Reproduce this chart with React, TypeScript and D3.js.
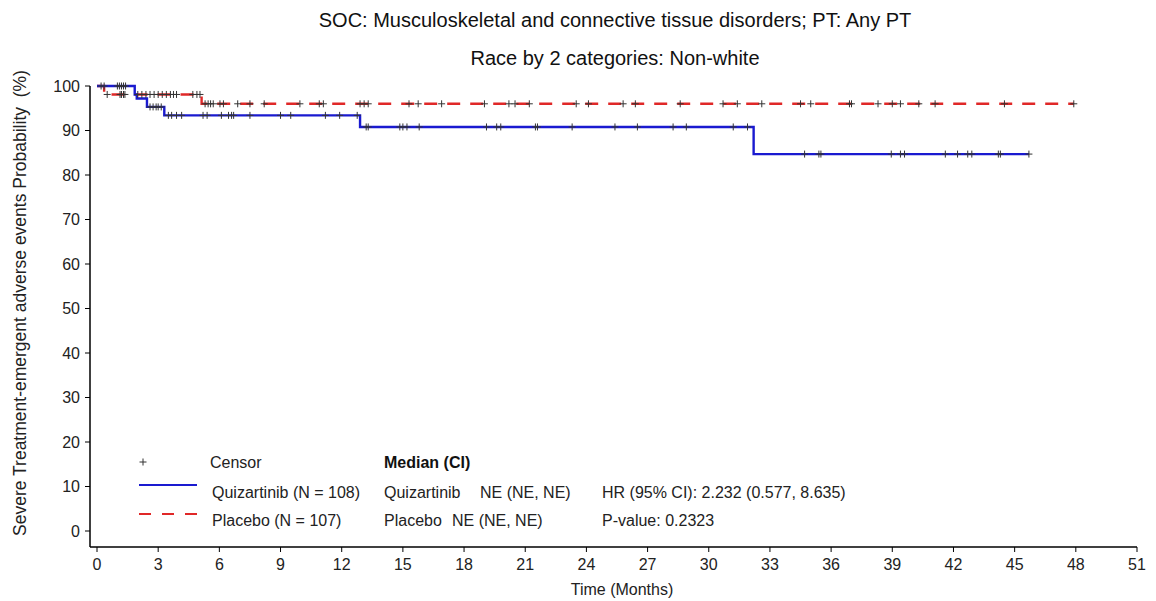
import React from "react";
import * as d3 from "d3";

const xTicks = [0, 3, 6, 9, 12, 15, 18, 21, 24, 27, 30, 33, 36, 39, 42, 45, 48, 51];
const yTicks = [0, 10, 20, 30, 40, 50, 60, 70, 80, 90, 100];

// Quizartinib KM steps
const quizStepTimes = [0, 1.85, 1.95, 2.45, 3.3, 12.9, 32.2];
const quizStepSurv = [100, 98.1, 97.2, 95.3, 93.4, 90.8, 84.7];
const quizEnd = 45.7;
const quizCensor = [0.2, 0.35, 1.0, 1.1, 1.2, 1.3, 1.4, 2.6, 2.75, 2.9, 3.0, 3.15, 3.5, 3.66, 3.9, 4.15, 5.2, 5.4, 6.1, 6.45, 6.6, 6.7, 7.5, 9.0, 9.5, 11.2, 11.9, 12.76, 13.2, 13.3, 14.85, 15.0, 15.2, 15.8, 19.1, 19.6, 19.8, 21.5, 21.6, 23.3, 25.4, 26.5, 28.25, 28.9, 31.2, 31.9, 34.7, 35.4, 35.5, 38.95, 39.4, 39.6, 41.6, 42.2, 42.7, 42.9, 44.2, 44.3, 45.7];

// Placebo KM steps
const placStepTimes = [0, 0.35, 5.13];
const placStepSurv = [100, 98.1, 96.0];
const placEnd = 47.9;
const placCensor = [0.5, 1.13, 1.2, 1.3, 1.37, 2.0, 2.2, 2.4, 2.6, 2.8, 3.0, 3.2, 3.4, 3.6, 3.75, 3.9, 4.7, 4.9, 5.05, 5.3, 5.45, 5.57, 5.7, 6.03, 6.2, 6.9, 7.5, 8.2, 9.95, 10.9, 11.1, 12.9, 13.1, 13.3, 15.3, 15.75, 16.9, 19.0, 20.2, 20.5, 21.2, 23.5, 24.1, 25.8, 26.4, 28.6, 30.7, 31.4, 32.6, 34.5, 35.0, 36.9, 37.0, 38.3, 39.0, 39.4, 40.3, 41.1, 44.5, 47.9];

const titleLines = ["SOC: Musculoskeletal and connective tissue disorders; PT: Any PT", "Race by 2 categories: Non-white"];

const FONT = "Liberation Sans, Arial, sans-serif";
const BLUE = "#1a1ad0";
const RED = "#e02828";

function survAt(times: number[], surv: number[], t: number) {
  let s = surv[0];
  for (let i = 0; i < times.length; i++) if (times[i] <= t) s = surv[i];
  return s;
}

export default function App() {
  const W = 1156, H = 601;
  const x = d3.scaleLinear().domain([0, 51]).range([97, 1137]);
  const y = d3.scaleLinear().domain([0, 100]).range([531, 86]);
  const axisY = 547;
  const axisX = 90;

  const line = d3.line<[number, number]>().x(d => x(d[0])).y(d => y(d[1])).curve(d3.curveStepAfter);
  const quizPts: [number, number][] = quizStepTimes.map((t, i) => [t, quizStepSurv[i]] as [number, number]);
  quizPts.push([quizEnd, quizStepSurv[quizStepSurv.length - 1]]);
  const placPts: [number, number][] = placStepTimes.map((t, i) => [t, placStepSurv[i]] as [number, number]);
  placPts.push([placEnd, placStepSurv[placStepSurv.length - 1]]);

  const cross = (cx: number, cy: number, k: string) => (
    <path key={k} d={`M${cx - 3.5},${cy}H${cx + 3.5}M${cx},${cy - 3.5}V${cy + 3.5}`} stroke="#333" strokeWidth={1} fill="none" />
  );

  return (
    <svg width={W} height={H} style={{ position: "absolute", left: 0, top: 0, background: "#fff" }} fontFamily={FONT}>
      <rect width={W} height={H} fill="#fff" />
      {titleLines.map((t, i) => (
        <text key={t} x={615} y={27 + i * 38} textAnchor="middle" fontSize={20} fill="#111">{t}</text>
      ))}
      {/* axes */}
      <line x1={axisX} x2={axisX} y1={y(100)} y2={axisY} stroke="#000" strokeWidth={1.5} />
      <line x1={axisX} x2={x(51)} y1={axisY} y2={axisY} stroke="#000" strokeWidth={1.5} />
      {yTicks.map(v => (
        <g key={"y" + v}>
          <line x1={axisX - 5} x2={axisX} y1={y(v)} y2={y(v)} stroke="#000" />
          <text x={axisX - 10} y={y(v)} dy="0.35em" textAnchor="end" fontSize={16} fill="#222">{v}</text>
        </g>
      ))}
      {xTicks.map(v => (
        <g key={"x" + v}>
          <line x1={x(v)} x2={x(v)} y1={axisY} y2={axisY + 5} stroke="#000" />
          <text x={x(v)} y={axisY + 17} dy="0.35em" textAnchor="middle" fontSize={16} fill="#222">{v}</text>
        </g>
      ))}
      <text x={622} y={595} textAnchor="middle" fontSize={16} fill="#222">Time (Months)</text>
      <text transform={`translate(26,303) rotate(-90)`} textAnchor="middle" fontSize={17.5} fill="#222" style={{ whiteSpace: "pre" }}>Severe Treatment-emergent adverse events Probability  (%)</text>

      {/* curves */}
      <path d={line(placPts) || ""} fill="none" stroke={RED} strokeWidth={2.4} strokeDasharray="13,10" />
      <path d={line(quizPts) || ""} fill="none" stroke={BLUE} strokeWidth={2.4} />
      {quizCensor.map((t, i) => cross(x(t), y(survAt(quizStepTimes, quizStepSurv, t)), "qc" + i))}
      {placCensor.map((t, i) => cross(x(t), y(survAt(placStepTimes, placStepSurv, t)), "pc" + i))}

      {/* legend */}
      {cross(143, 462, "lg")}
      <text x={210} y={462} dy="0.35em" fontSize={16} fill="#222">Censor</text>
      <line x1={139} x2={197} y1={485} y2={485} stroke={BLUE} strokeWidth={2} />
      <text x={212} y={492} dy="0.35em" fontSize={16} fill="#222">Quizartinib (N = 108)</text>
      <line x1={139} x2={197} y1={514} y2={514} stroke={RED} strokeWidth={2} strokeDasharray="12,11" />
      <text x={212} y={520} dy="0.35em" fontSize={16} fill="#222">Placebo (N = 107)</text>

      <text x={384} y={462} dy="0.35em" fontSize={16} fontWeight="bold" fill="#111">Median (CI)</text>
      <text x={384} y={492} dy="0.35em" fontSize={16} fill="#222">Quizartinib</text>
      <text x={480} y={492} dy="0.35em" fontSize={16} fill="#222">NE (NE, NE)</text>
      <text x={384} y={520} dy="0.35em" fontSize={16} fill="#222">Placebo</text>
      <text x={452} y={520} dy="0.35em" fontSize={16} fill="#222">NE (NE, NE)</text>
      <text x={602} y={492} dy="0.35em" fontSize={16} fill="#222">HR (95% CI): 2.232 (0.577, 8.635)</text>
      <text x={602} y={520} dy="0.35em" fontSize={16} fill="#222">P-value: 0.2323</text>
    </svg>
  );
}
